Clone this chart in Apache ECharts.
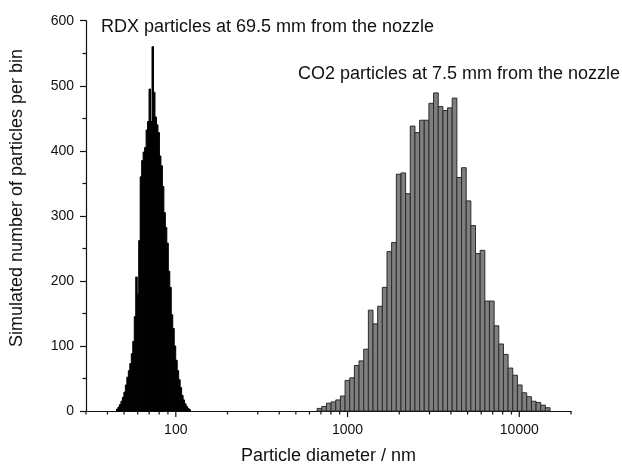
<!DOCTYPE html>
<html>
<head>
<meta charset="utf-8">
<script src="https://cdn.jsdelivr.net/npm/echarts@6/dist/echarts.min.js"></script>
<style>
  html, body { margin: 0; padding: 0; background: #fff; }
  #chart { width: 622px; height: 470px; }
</style>
</head>
<body>
<div id="chart"></div>
<script>
// Simulated counts per bin (log-spaced bins spanning each range, in nm)
const rdxCounts = [3, 6, 10, 15, 21, 29, 40, 52, 62, 73, 88, 107, 145, 206, 180, 262, 360, 385, 398, 405,
                   432, 445, 495, 445, 560, 490, 452, 440, 428, 392, 377, 345, 305, 282, 258, 215, 190, 148, 127, 100,
                   78, 62, 48, 36, 24, 17, 11, 7, 4, 2];
const rdxRange = [45.15, 121.8];

const co2Counts = [4, 7, 12, 14, 17, 23, 47, 51, 70, 77, 95, 155, 134, 161, 190, 245, 259, 364, 366, 334,
                   438, 428, 447, 447, 473, 489, 468, 462, 466, 481, 359, 374, 323, 285, 242, 247, 169, 169, 131, 103,
                   87, 66, 55, 40, 28, 22, 15, 13, 9, 5];
const co2Range = [665, 15100];

// Axis extents and tick positions
const xLimits = [30, 20000];
const yLimits = [0, 600];
const yStep = 100;
const xMajorTicks = [100, 1000, 10000];
const xMinorTicks = [30, 40, 50, 60, 70, 80, 90,
                     200, 300, 400, 500, 600, 700, 800, 900,
                     2000, 3000, 4000, 5000, 6000, 7000, 8000, 9000,
                     20000];

// Text
const rdxLabel = 'RDX particles at 69.5 mm from the nozzle';
const co2Label = 'CO2 particles at 7.5 mm from the nozzle';
const xTitle = 'Particle diameter / nm';
const yTitle = 'Simulated number of particles per bin';

const FONT = '"Liberation Sans", Arial, Helvetica, sans-serif';
const INK = '#111';

// Turn counts into [lower edge, upper edge, count] with log-uniform bins
function toBins(counts, range) {
  const n = counts.length;
  const r = Math.pow(range[1] / range[0], 1 / n);
  return counts.map((c, i) => [range[0] * Math.pow(r, i), range[0] * Math.pow(r, i + 1), c]);
}

function histogram(name, counts, range, fill, stroke) {
  return {
    type: 'custom',
    name: name,
    silent: true,
    data: toBins(counts, range),
    encode: { x: [0, 1], y: 2 },
    renderItem: function (params, api) {
      const a = api.coord([api.value(0), api.value(2)]);
      const b = api.coord([api.value(1), 0]);
      return {
        type: 'rect',
        shape: { x: a[0], y: a[1], width: b[0] - a[0], height: b[1] - a[1] },
        style: { fill: fill, stroke: stroke, lineWidth: 1 }
      };
    }
  };
}

function tickSeries(values, len) {
  return {
    type: 'custom',
    silent: true,
    clip: false,
    data: values.map(v => [v, 0]),
    encode: { x: 0, y: 1 },
    renderItem: function (params, api) {
      const p = api.coord([api.value(0), 0]);
      return {
        type: 'line',
        shape: { x1: p[0], y1: p[1], x2: p[0], y2: p[1] + len },
        style: { stroke: INK, lineWidth: 1.2 }
      };
    }
  };
}

const chart = echarts.init(document.getElementById('chart'), null, { renderer: 'canvas' });

chart.setOption({
  animation: false,
  backgroundColor: '#fff',
  grid: { left: 86, right: 51, top: 20.7, bottom: 56.7 },
  xAxis: {
    type: 'log',
    logBase: 10,
    min: xLimits[0],
    max: xLimits[1],
    axisLine: { show: true, lineStyle: { color: INK, width: 1.2 } },
    axisTick: { show: false },
    splitLine: { show: false },
    axisLabel: {
      showMinLabel: false,
      showMaxLabel: false,
      margin: 12,
      color: INK,
      fontFamily: FONT,
      fontSize: 14,
      formatter: v => String(Math.round(v))
    },
    name: xTitle,
    nameLocation: 'middle',
    nameGap: 36,
    nameTextStyle: { color: INK, fontFamily: FONT, fontSize: 18 }
  },
  yAxis: {
    type: 'value',
    min: yLimits[0],
    max: yLimits[1],
    interval: yStep,
    axisLine: { show: true, lineStyle: { color: INK, width: 1.2 } },
    axisTick: { show: true, length: 6, lineStyle: { color: INK, width: 1.2 } },
    minorTick: { show: true, splitNumber: 2, length: 3.5, lineStyle: { color: INK, width: 1.2 } },
    splitLine: { show: false },
    axisLabel: { margin: 12, color: INK, fontFamily: FONT, fontSize: 14 }
  },
  series: [
    histogram('RDX', rdxCounts, rdxRange, '#000', '#000'),
    histogram('CO2', co2Counts, co2Range, '#7f7f7f', '#2b2b2b'),
    tickSeries(xMajorTicks, 6),
    tickSeries(xMinorTicks, 3.5)
  ],
  graphic: [
    {
      type: 'text', x: 17, y: 198, rotation: Math.PI / 2,
      style: { text: yTitle, font: '18px ' + FONT, fill: INK,
               align: 'center', verticalAlign: 'middle', textAlign: 'center', textVerticalAlign: 'middle' }
    },
    {
      type: 'text', x: 101, y: 27,
      style: { text: rdxLabel, font: '18px ' + FONT, fill: INK,
               verticalAlign: 'middle', textVerticalAlign: 'middle' }
    },
    {
      type: 'text', x: 298, y: 74,
      style: { text: co2Label, font: '18px ' + FONT, fill: INK,
               verticalAlign: 'middle', textVerticalAlign: 'middle' }
    }
  ]
});
</script>
</body>
</html>
